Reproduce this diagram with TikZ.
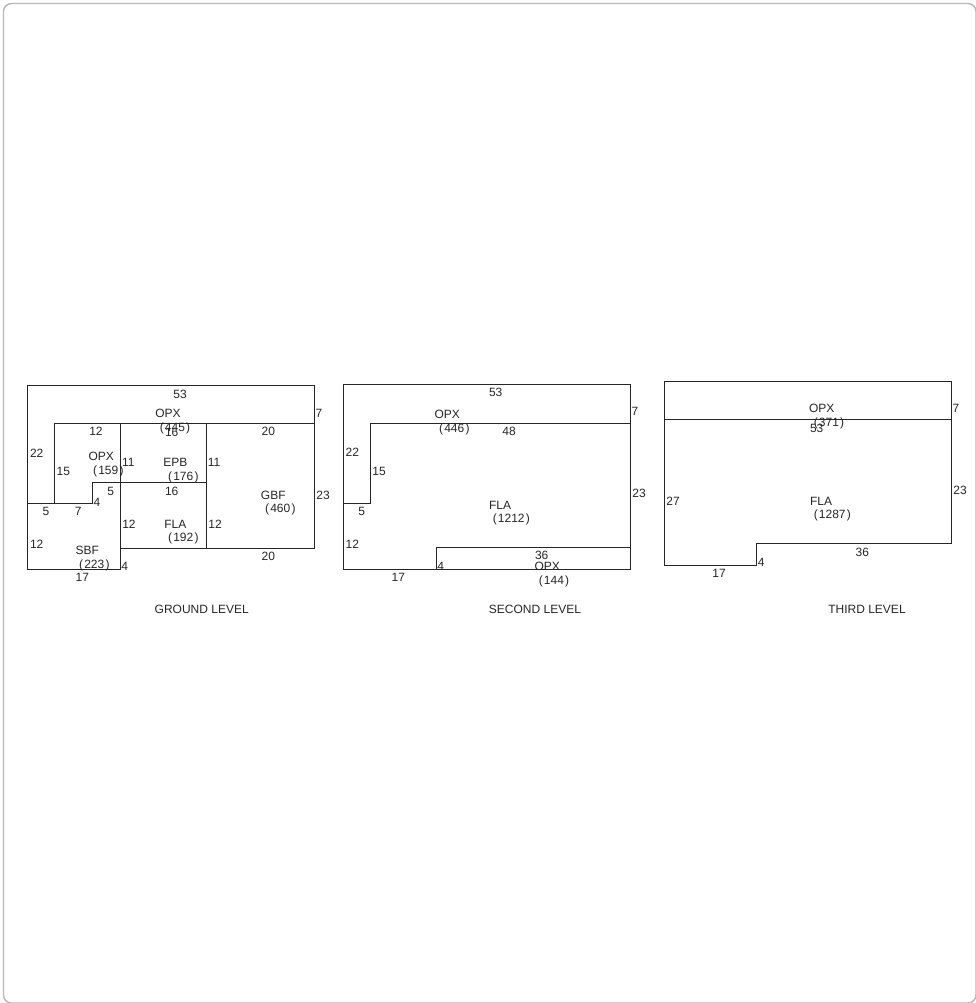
\documentclass[tikz,border=0pt]{standalone}
\usepackage{fontspec}
\setmainfont{Liberation Sans}

\newcommand{\area}[1]{(\kern0.9pt#1\kern0.9pt)}

\tikzset{
  wall/.style={draw=black!85,line width=0.9pt,line join=miter},
  frame/.style={draw=black!28,line width=1.1pt,rounded corners=6pt},
  dim/.style={inner sep=0pt,font=\fontsize{9}{9}\selectfont,text=black!85}
}

\begin{document}
\begin{tikzpicture}[x=0.75pt,y=-0.75pt]

  \useasboundingbox (0,0) rectangle (975,1003);

  \path [frame] (3.5,3.5) rectangle (976,1003);

  \path [wall]
    (27.7,385.7) -- (314.3,385.7) -- (314.3,548.3) -- (120.3,548.3) -- (120.3,569.4) -- (27.7,569.4) -- cycle
    (54.3,423.3) -- (314.3,423.3)
    (54.3,423.3) -- (54.3,503.3)
    (27.7,503.3) -- (92.3,503.3) -- (92.3,482.7) -- (206.3,482.7)
    (120.3,423.3) -- (120.3,548.3)
    (206.3,423.3) -- (206.3,548.3);

  \foreach \x/\y/\lab [count=\n] in {
    180/394/53, 168/413.7/OPX, 175/428.3/\area{445}, 171.7/432.3/16, 96/431.7/12,
    268.3/431.7/20, 319/413/7, 36.7/453.7/22, 63.3/471.7/15, 101.3/456/OPX,
    108.3/471/\area{159}, 128.3/462.3/11, 175.3/462.3/EPB, 183.3/477/\area{176}, 214/462.3/11,
    110.7/491/5, 171.7/491/16, 273.3/495/GBF, 280.3/509.3/\area{460}, 323/495/23,
    97/502/4, 46/511.7/5, 78.3/511.7/7, 129/524/12, 175.3/524/FLA,
    183.3/538.7/\area{192}, 215/524/12, 36.7/544.7/12, 87.3/550.7/SBF, 94.3/565.7/\area{223},
    124.7/566/4, 82.3/577.3/17, 268.3/556.7/20, 201.7/609/GROUND LEVEL}
    \node [dim] (ground\n) at (\x,\y) {\lab};

  \path [wall]
    (343.7,384.3) -- (630.3,384.3) -- (630.3,569.4) -- (343.7,569.4) -- cycle
    (630.3,423.3) -- (370.3,423.3) -- (370.3,503.3) -- (343.7,503.3)
    (436.4,569.4) -- (436.4,547.3) -- (630.3,547.3);

  \foreach \x/\y/\lab [count=\n] in {
    495.7/392.7/53, 447.3/414.7/OPX, 454.3/429.3/\area{446}, 509/431.7/48, 635/411.7/7,
    352.3/452.3/22, 379/471.7/15, 639/493.7/23, 500/505/FLA, 511.3/519.3/\area{1212},
    361.7/511.7/5, 352.3/544.7/12, 541.7/555.3/36, 547.3/566.3/OPX, 440.7/566/4,
    554/581.7/\area{144}, 398.3/577/17, 535/609/SECOND LEVEL}
    \node [dim] (second\n) at (\x,\y) {\lab};

  \path [wall]
    (664.3,381.7) -- (951.3,381.7) -- (951.3,543.7) -- (756.3,543.7) -- (756.3,565.7) -- (664.3,565.7) -- cycle
    (664.3,419.7) -- (951.3,419.7);

  \foreach \x/\y/\lab [count=\n] in {
    821.7/408.3/OPX, 829/423.7/\area{371}, 816.7/428.3/53, 956/408/7, 960/490/23,
    673/501/27, 821/501/FLA, 832.3/515.7/\area{1287}, 862.3/552/36, 761.3/562.7/4,
    719/573.7/17, 867/609/THIRD LEVEL}
    \node [dim] (third\n) at (\x,\y) {\lab};

\end{tikzpicture}
\end{document}
